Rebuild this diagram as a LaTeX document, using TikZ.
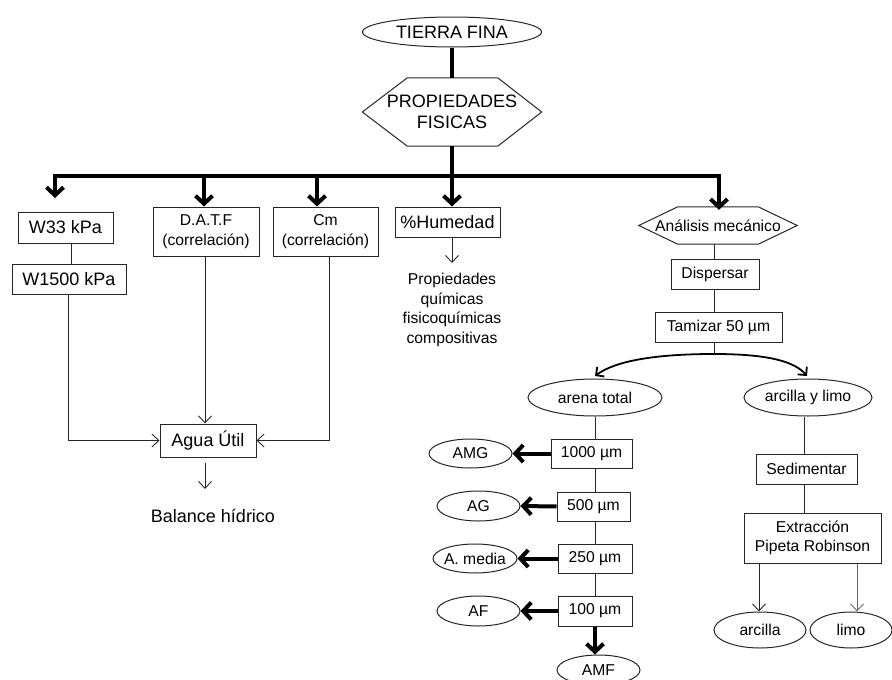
\documentclass[tikz,border=0pt]{standalone}
\usepackage{fontspec}
\setmainfont{Liberation Sans}
\usetikzlibrary{shapes.geometric,arrows.meta}

\begin{document}
\begin{tikzpicture}[x=1pt,y=-1pt,
  big/.style={font=\fontsize{18}{21}\selectfont},
  small/.style={font=\fontsize{15.7}{19.5}\selectfont},
  box/.style={draw=black!85, line width=1pt, rectangle, inner sep=0pt, align=center},
  oval/.style={draw=black!85, line width=1pt, ellipse, inner sep=0pt},
  plain/.style={inner sep=0pt, align=center},
  thinline/.style={line width=0.9pt, draw=black!85},
  thinarrow/.style={thinline, -{Straight Barb[length=7pt,width=13pt]}},
  heavy/.style={line width=4pt},
  heavyarrow/.style={heavy, -{Straight Barb[length=8pt,width=17pt]}},
  arcarrow/.style={line width=1.8pt, -{Straight Barb[length=6pt,width=12pt]}},
  hexline/.style={draw=black!85, line width=1pt}
]
\useasboundingbox (0,0) rectangle (892,680);

% ---- top of the scheme
\node[oval,big,minimum width=179pt,minimum height=30pt] (tf) at (452,32) {\makebox[0pt]{TIERRA FINA}};
\node[plain,big,minimum width=179pt,minimum height=68pt] (pf) at (452,112) {PROPIEDADES\\FISICAS};
\draw[hexline] (pf.west) -- ([xshift=45pt]pf.north west) -- ([xshift=-44pt]pf.north east)
  -- (pf.east) -- ([xshift=-44pt]pf.south east) -- ([xshift=45pt]pf.south west) -- cycle;

% ---- first row of determinations
\node[box,big,minimum width=95pt,minimum height=31pt] (w33) at (65.5,227.5) {W33 kPa};
\node[box,big,minimum width=114pt,minimum height=30pt] (w15) at (69,279) {W1500 kPa};
\node[box,small,minimum width=106pt,minimum height=49pt] (datf) at (206,231.5) {D.A.T.F\\(correlación)};
\node[box,small,minimum width=105pt,minimum height=49pt] (cm) at (325.5,231.5) {Cm\\(correlación)};
\node[box,big,minimum width=105pt,minimum height=30pt] (hum) at (447.5,222) {\%Humedad};
\node[plain,small] (prop) at (452,310) {Propiedades\\químicas\\fisicoquímicas\\compositivas};
\node[plain,small,minimum width=158pt,minimum height=37pt] (am) at (718,225.5) {Análisis mecánico};
\draw[hexline] (am.west) -- ([xshift=39pt]am.north west) -- ([xshift=-39pt]am.north east)
  -- (am.east) -- ([xshift=-39pt]am.south east) -- ([xshift=39pt]am.south west) -- cycle;

\node[box,big,minimum width=96pt,minimum height=33pt] (agua) at (208,440.5) {Agua Útil};
\node[plain,big] (bal) at (213,516) {Balance hídrico};

% ---- mechanical analysis
\node[box,small,minimum width=88pt,minimum height=30pt] (disp) at (715,274) {Dispersar};
\node[box,small,minimum width=127pt,minimum height=30pt] (tam) at (718.5,327) {Tamizar 50 µm};
\node[oval,small,minimum width=134pt,minimum height=37pt] (at) at (595,397.5) {\makebox[0pt]{arena total}};
\node[oval,small,minimum width=128pt,minimum height=37pt] (ayl) at (808,397.5) {\makebox[0pt]{arcilla y limo}};

\node[box,small,minimum width=81pt,minimum height=29pt] (s1000) at (591.5,453.5) {1000 µm};
\node[box,small,minimum width=73pt,minimum height=29pt] (s500) at (593.5,506.5) {500 µm};
\node[box,small,minimum width=74pt,minimum height=29pt] (s250) at (595,558.5) {250 µm};
\node[box,small,minimum width=74pt,minimum height=30pt] (s100) at (595,611) {100 µm};

\node[oval,small,minimum width=83pt,minimum height=29pt] (amg) at (470.5,453.5) {\makebox[0pt]{AMG}};
\node[oval,small,minimum width=83pt,minimum height=30pt] (ag) at (478.5,506) {\makebox[0pt]{AG}};
\node[oval,small,minimum width=84pt,minimum height=29pt] (amed) at (475,558.5) {\makebox[0pt]{A. media}};
\node[oval,small,minimum width=83pt,minimum height=30pt] (af) at (478.5,611) {\makebox[0pt]{AF}};
\node[oval,small,minimum width=83pt,minimum height=30pt] (amf) at (598.5,670) {\makebox[0pt]{AMF}};

\node[box,small,minimum width=101pt,minimum height=30pt] (sed) at (806.5,469) {Sedimentar};
\node[box,small,minimum width=137pt,minimum height=50pt] (ext) at (812.5,538) {Extracción\\Pipeta Robinson};
\node[oval,small,minimum width=92pt,minimum height=36pt] (arc) at (760,630) {\makebox[0pt]{arcilla}};
\node[oval,small,minimum width=82pt,minimum height=36pt] (limo) at (851,630) {\makebox[0pt]{limo}};

% ---- helper coordinates for connector columns
\coordinate (bus) at (452,176);
\coordinate (w33in) at (55,198);
\coordinate (xd) at (204,0);
\coordinate (xc) at (317,0);
\coordinate (xa) at (719,0);
\coordinate (xw) at (71,0);
\coordinate (xw2) at (68,0);
\coordinate (xdd) at (205,0);
\coordinate (xcc) at (329,0);
\coordinate (balin) at (205,489);
\coordinate (propin) at (452,263);
\coordinate (xm) at (714,0);
\coordinate (peak) at (714,354);
\coordinate (splitL) at (595,376);
\coordinate (splitR) at (807,376);
\coordinate (xs) at (595,0);
\coordinate (xr) at (804,0);
\coordinate (xl) at (759,0);
\coordinate (xo) at (857,0);

% ---- heavy trunk and branches
\draw[heavy] (tf.south) -- (pf.north);
\draw[heavy] (pf.south) -- (bus);
\draw[heavyarrow] (bus) -| (w33in);
\draw[heavyarrow] (bus) -| (datf.north -| xd);
\draw[heavyarrow] (bus) -| (cm.north -| xc);
\draw[heavyarrow] (bus) -- (hum.north -| bus);
\draw[heavyarrow] (bus) -| ([yshift=-3pt]am.north -| xa);

% ---- water balance
\draw[thinline] (w33.south -| xw) -- (w15.north -| xw);
\draw[thinarrow] (w15.south -| xw2) |- (agua.west);
\draw[thinarrow] (datf.south -| xdd) -- (agua.north -| xdd);
\draw[thinarrow] (cm.south -| xcc) |- (agua.east);
\draw[thinarrow, shorten <=5pt] (agua.south -| xdd) -- (balin);
\draw[thinarrow] (hum.south -| bus) -- (propin);

% ---- mechanical analysis chain
\draw[thinline] (am.south -| xm) -- (disp.north -| xm);
\draw[thinline] (disp.south -| xm) -- (tam.north -| xm);
\draw[thinline] (tam.south -| xm) -- (peak);
\draw[arcarrow] (peak) .. controls (655,354) and (615,361) .. (splitL);
\draw[arcarrow] (peak) .. controls (770,354) and (795,362) .. (splitR);

\draw[thinline] (at.south) -- (s1000.north -| xs);
\draw[thinline] (s1000.south -| xs) -- (s500.north -| xs);
\draw[thinline] (s500.south -| xs) -- (s250.north -| xs);
\draw[thinline] (s250.south -| xs) -- (s100.north -| xs);
\draw[heavyarrow] (s1000.west) -- (amg.east);
\draw[heavyarrow] (s500.west) -- (ag.east);
\draw[heavyarrow] (s250.west) -- (amed.east);
\draw[heavyarrow] (s100.west) -- (af.east);
\draw[heavyarrow] (s100.south -| xs) -- (amf.north -| xs);

\draw[thinline] (ayl.south -| xr) -- (sed.north -| xr);
\draw[thinline] (sed.south -| xr) -- (ext.north -| xr);
\draw[thinarrow] (ext.south -| xl) -- (arc.north -| xl);
\draw[thinarrow, draw=black!60] (ext.south -| xo) -- (limo.north -| xo);
\end{tikzpicture}
\end{document}
